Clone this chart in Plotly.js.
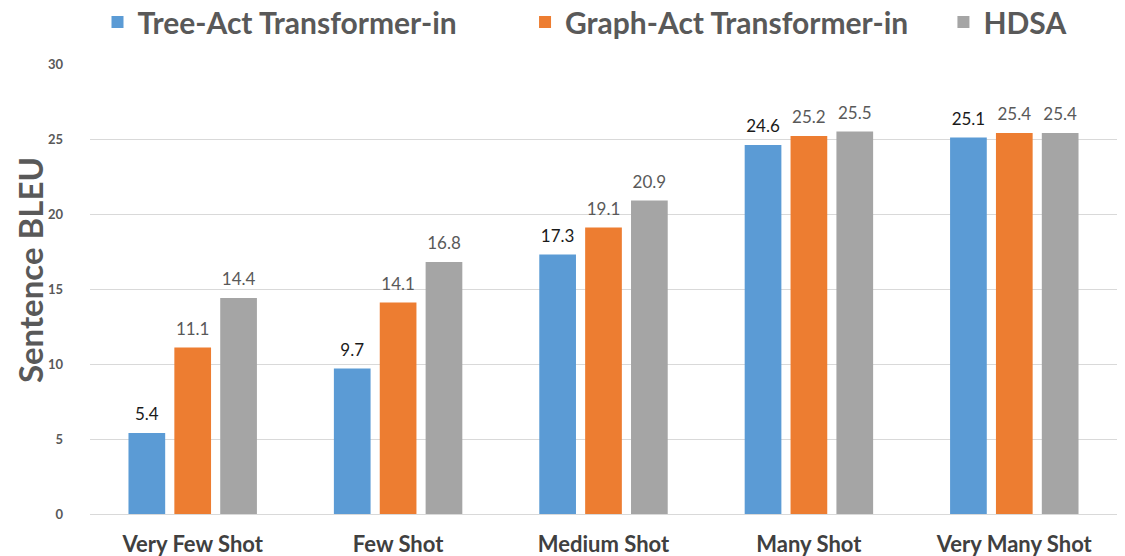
<!DOCTYPE html>
<html><head><meta charset="utf-8">
<script src="https://cdn.plot.ly/plotly-3.0.1.min.js"></script>
<style>html,body{margin:0;padding:0;background:#fff;}#chart{width:1125px;height:556px;}</style>
</head><body><div id="chart"></div>
<script>
const categories = ["Very Few Shot", "Few Shot", "Medium Shot", "Many Shot", "Very Many Shot"];
const treeAct = [5.4, 9.7, 17.3, 24.6, 25.1];
const graphAct = [11.1, 14.1, 19.1, 25.2, 25.4];
const hdsa = [14.4, 16.8, 20.9, 25.5, 25.4];
const seriesNames = ["Tree-Act Transformer-in", "Graph-Act Transformer-in", "HDSA"];
const yTicks = [0, 5, 10, 15, 20, 25, 30];
const yTitle = "Sentence BLEU";

const colors = ["#5B9BD5", "#ED7D31", "#A5A5A5"];
const labelColors = ["#1a1a1a", "#595959", "#595959"];
const legendIds = ["legend", "legend2", "legend3"];
const FONT = "Lato, 'Open Sans', sans-serif";
const series = [treeAct, graphAct, hdsa];

const bars = series.map((vals, i) => ({
  type: "bar",
  name: seriesNames[i],
  legend: legendIds[i],
  x: categories,
  y: vals,
  marker: {color: colors[i]},
  hoverinfo: "x+y"
}));
const labels = series.map((vals, i) => ({
  type: "scatter",
  mode: "markers+text",
  showlegend: false,
  x: categories,
  y: vals,
  text: vals.map(v => v.toFixed(1)),
  textposition: "top center",
  marker: {size: 12, color: "rgba(0,0,0,0)"},
  textfont: {family: FONT, size: 17, color: labelColors[i]},
  cliponaxis: false,
  hoverinfo: "skip"
}));

const legendBase = {orientation: "h", xanchor: "left", y: 0.9604, yanchor: "middle", yref: "container",
  font: {family: FONT, size: 30, color: "#595959", weight: "bold"}, itemwidth: 30, bgcolor: "rgba(0,0,0,0)"};

const layout = {
  width: 1125, height: 556,
  margin: {l: 90, r: 8, t: 64, b: 42},
  paper_bgcolor: "#fff", plot_bgcolor: "#fff",
  barmode: "group", bargap: 0.33, bargroupgap: 0.2,
  scattermode: "group", scattergap: 0.33,
  showlegend: true,
  legend: Object.assign({}, legendBase, {x: 0.0073}),
  legend2: Object.assign({}, legendBase, {x: 0.4236}),
  legend3: Object.assign({}, legendBase, {x: 0.831}),
  xaxis: {tickfont: {family: FONT, size: 22, color: "#404040", weight: "bold"}, showline: false, ticks: "", ticklen: 0,
    ticklabelstandoff: 15, automargin: false},
  yaxis: {range: [0, 30], tickvals: yTicks, ticktext: yTicks.map(String), showgrid: true, gridcolor: "#D9D9D9", gridwidth: 1,
    zeroline: true, zerolinecolor: "#D9D9D9", zerolinewidth: 1, showline: false,
    tickfont: {family: FONT, size: 13, color: "#595959", weight: "bold"}, ticklabelstandoff: 26, automargin: false},
  annotations: [{text: yTitle, xref: "paper", yref: "paper", x: -0.0584, y: 0.542, xanchor: "center", yanchor: "middle",
    textangle: -90, showarrow: false, font: {family: FONT, size: 33, color: "#595959", weight: "bold"}}]
};
Plotly.newPlot("chart", bars.concat(labels), layout, {displayModeBar: false, staticPlot: true});
</script></body></html>
